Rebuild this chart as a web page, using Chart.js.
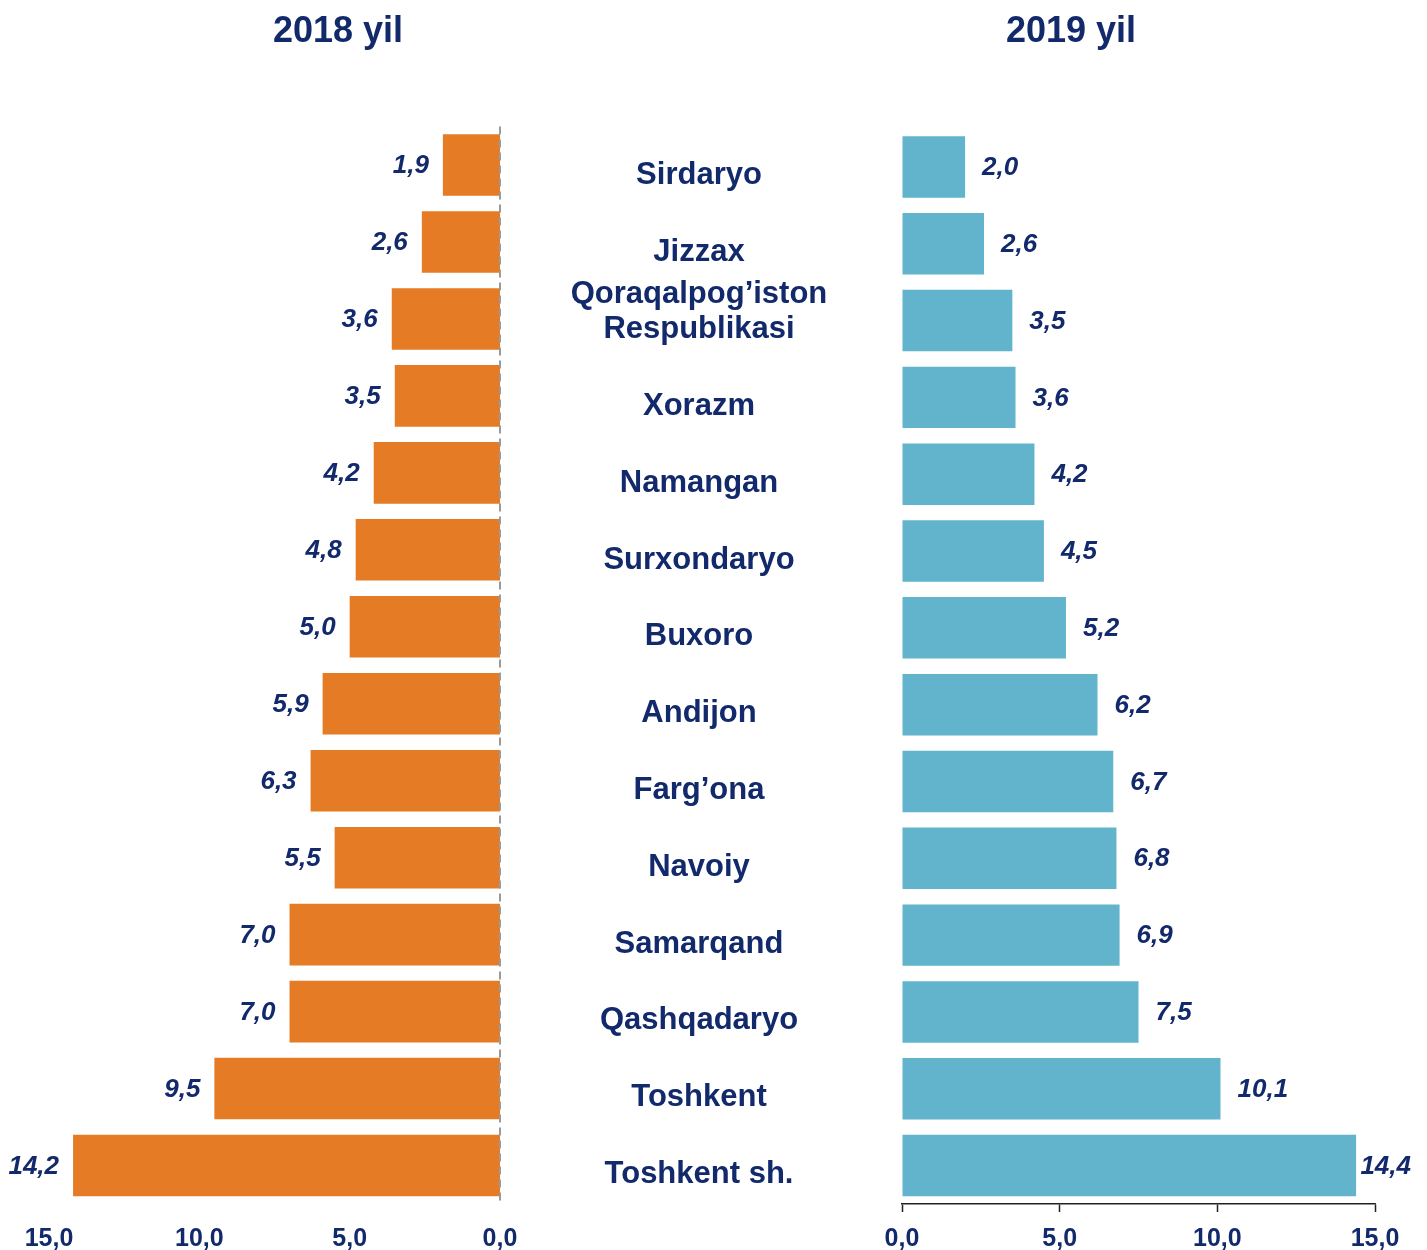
<!DOCTYPE html>
<html>
<head>
<meta charset="utf-8">
<script src="https://cdn.jsdelivr.net/npm/chart.js@4/dist/chart.umd.min.js"></script>
<style>
  body { margin: 0; background: #fff; }
  #wrap { position: relative; width: 1427px; height: 1250px; }
  #wrap canvas { position: absolute; left: 0; top: 0; }
</style>
</head>
<body>
<div id="wrap">
  <canvas id="left" width="1427" height="1250"></canvas>
  <canvas id="right" width="1427" height="1250"></canvas>
</div>
<script>
// regions, top to bottom
const regions = [
  "Sirdaryo", "Jizzax", ["Qoraqalpog\u2019iston", "Respublikasi"], "Xorazm", "Namangan",
  "Surxondaryo", "Buxoro", "Andijon", "Farg\u2019ona", "Navoiy", "Samarqand",
  "Qashqadaryo", "Toshkent", "Toshkent sh."
];
const values2018 = [1.9, 2.6, 3.6, 3.5, 4.2, 4.8, 5.0, 5.9, 6.3, 5.5, 7.0, 7.0, 9.5, 14.2];
const values2019 = [2.0, 2.6, 3.5, 3.6, 4.2, 4.5, 5.2, 6.2, 6.7, 6.8, 6.9, 7.5, 10.1, 14.4];
const axisTicks = [0, 5, 10, 15];
const titles = ["2018 yil", "2019 yil"];

const NAVY = "#12296b";
const FONT = "'Liberation Sans', Arial, sans-serif";

const fmt = v => v.toFixed(1).replace(".", ",");

// value labels next to the bar ends + chart title
function labelsPlugin(side, title, titleX) {
    return {
        id: "labels_" + side,
        afterDatasetsDraw(chart) {
            const ctx = chart.ctx;
            const meta = chart.getDatasetMeta(0);
            const data = chart.data.datasets[0].data;
            ctx.save();
            ctx.fillStyle = NAVY;
            ctx.font = "italic bold 26px " + FONT;
            ctx.textBaseline = "middle";
            meta.data.forEach((bar, i) => {
                const txt = fmt(data[i]);
                if (side === "left") {
                    ctx.textAlign = "right";
                    ctx.fillText(txt, bar.x - 14, bar.y + 1);
                } else {
                    ctx.textAlign = "left";
                    // keep the last label inside the page
                    const x = Math.min(bar.x + 17, chart.width - 16 - ctx.measureText(txt).width);
                    ctx.fillText(txt, x, bar.y + 1);
                }
            });
            ctx.font = "bold 36px " + FONT;
            ctx.textAlign = "center";
            ctx.fillText(title, titleX, 32);
            ctx.restore();
        }
    };
}

// dashed zero line for the left chart
const zeroLine = {
    id: "zeroLine",
    afterDatasetsDraw(chart) {
        const ctx = chart.ctx;
        const x = chart.scales.x.getPixelForValue(0);
        ctx.save();
        ctx.strokeStyle = "#9a9a9a";
        ctx.lineWidth = 2;
        ctx.setLineDash([8, 5]);
        ctx.beginPath();
        ctx.moveTo(x, chart.chartArea.top);
        ctx.lineTo(x, chart.chartArea.bottom);
        ctx.stroke();
        ctx.restore();
    }
};

// region names in the middle
const regionNames = {
    id: "regionNames",
    afterDraw(chart) {
        const ctx = chart.ctx;
        const y = chart.scales.y;
        ctx.save();
        ctx.fillStyle = NAVY;
        ctx.font = "bold 31px " + FONT;
        ctx.textAlign = "center";
        ctx.textBaseline = "middle";
        regions.forEach((name, i) => {
            const cy = y.getPixelForValue(i) + 9;
            if (Array.isArray(name)) {
                const lh = 35;
                const y0 = cy - 18 - (name.length - 1) * lh / 2;
                name.forEach((line, j) => ctx.fillText(line, 699, y0 + j * lh));
            } else {
                ctx.fillText(name, 699, cy);
            }
        });
        ctx.restore();
    }
};

function makeChart(id, values, color, side) {
    const isLeft = side === "left";
    return new Chart(document.getElementById(id), {
        type: "bar",
        data: {
            labels: regions.map(r => Array.isArray(r) ? r.join(" ") : r),
            datasets: [{
                data: values,
                backgroundColor: color,
                borderWidth: 0,
                categoryPercentage: 0.8,
                barPercentage: 1.0
            }]
        },
        options: {
            indexAxis: "y",
            responsive: false,
            animation: false,
            layout: {
                padding: isLeft
                    ? { left: 49, right: 927, top: 126.5, bottom: 0 }
                    : { left: 902, right: 52, top: 128.5, bottom: 0 }
            },
            plugins: {
                legend: { display: false },
                tooltip: { enabled: false },
                title: { display: false }
            },
            scales: {
                y: { display: false },
                x: {
                    min: 0,
                    max: 15,
                    reverse: isLeft,
                    afterFit: s => { s.height = 46; },
                    afterBuildTicks: s => { s.ticks = axisTicks.map(v => ({ value: v })); },
                    border: { display: !isLeft, color: "#222", width: 1.5 },
                    grid: {
                        display: !isLeft,
                        drawOnChartArea: false,
                        drawTicks: !isLeft,
                        tickLength: 8,
                        tickColor: "#222",
                        tickWidth: 1.5
                    },
                    ticks: {
                        color: NAVY,
                        font: { family: FONT, size: 25, weight: "bold" },
                        padding: isLeft ? 20 : 12,
                        maxRotation: 0,
                        callback: v => fmt(v)
                    }
                }
            }
        },
        plugins: isLeft
            ? [zeroLine, labelsPlugin("left", titles[0], 338)]
            : [regionNames, labelsPlugin("right", titles[1], 1071)]
    });
}

makeChart("left", values2018, "#e57b25", "left");
makeChart("right", values2019, "#61b4cb", "right");
</script>
</body>
</html>
